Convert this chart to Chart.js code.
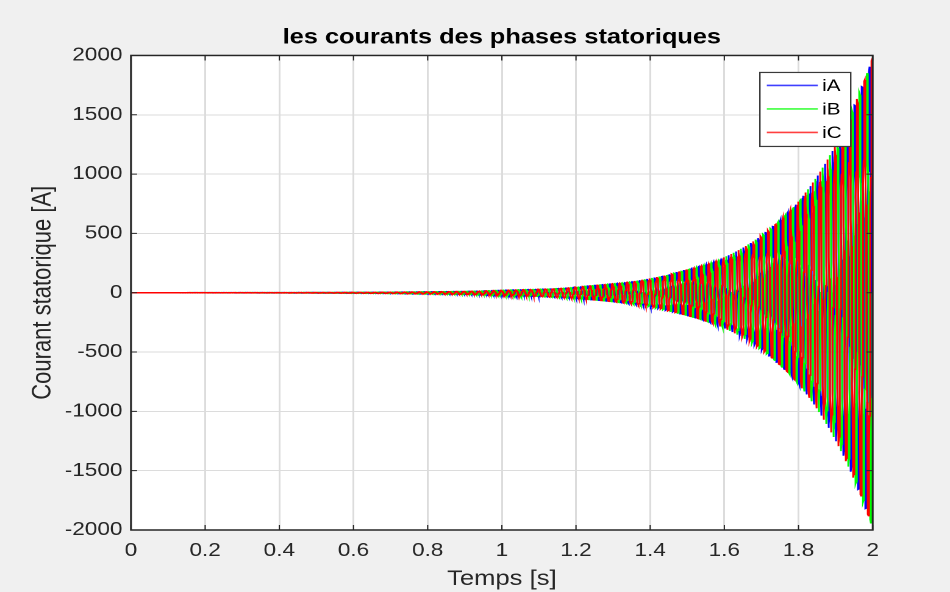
<!DOCTYPE html>
<html>
<head>
<meta charset="utf-8">
<title>Courants statoriques</title>
<script src="https://cdn.jsdelivr.net/npm/chart.js@4.4.1/dist/chart.umd.min.js"></script>
<style>
    html, body { margin: 0; padding: 0; background: #f0f0f0; overflow: hidden; }
    /* the figure is drawn narrow, then widened like the exported figure */
    #frame { width: 779px; height: 592px; transform: scaleX(1.2195); transform-origin: 0 0; }
</style>
</head>
<body>
<div id="frame"><canvas id="courants" width="779" height="592"></canvas></div>
<script>
// Peak amplitude of the phase currents (A) at a few instants (s)
const timeKnots   = [0, 0.2, 0.4, 0.6, 0.8, 1.0, 1.1, 1.2, 1.3, 1.4, 1.5, 1.6, 1.7, 1.8, 1.9, 2.0];
const envelopeAmp = [0.2, 0.5, 1.2, 3, 7.5, 20, 31, 48, 76, 122, 192, 300, 480, 775, 1245, 1985];

// Three phases of the 50 Hz supply
const phaseNames    = ['iA', 'iB', 'iC'];
const phaseColors   = ['#0000ff', '#00ff00', '#ff0000'];
const phaseShiftDeg = [-120, 0, 120];
const supplyFreq    = 50;
const sampleStep    = 0.0005;

const xTicks = [0, 0.2, 0.4, 0.6, 0.8, 1, 1.2, 1.4, 1.6, 1.8, 2];
const yTicks = [-2000, -1500, -1000, -500, 0, 500, 1000, 1500, 2000];

const FONT = 'Liberation Sans, Arial, Helvetica, sans-serif';
const AXIS_COLOR = '#262626';

// amplitude between two knots, log-linear since the growth is exponential
function envelopeAt(t) {
    let i = 0;
    while (i < timeKnots.length - 2 && t > timeKnots[i + 1]) i++;
    const f = (t - timeKnots[i]) / (timeKnots[i + 1] - timeKnots[i]);
    return Math.exp(Math.log(envelopeAmp[i]) * (1 - f) + Math.log(envelopeAmp[i + 1]) * f);
}

function buildPhase(k) {
    const pts = [];
    const n = Math.round(2 / sampleStep);
    const shift = phaseShiftDeg[k] * Math.PI / 180;
    for (let i = 0; i <= n; i++) {
        const t = i * sampleStep;
        pts.push({ x: t, y: envelopeAt(t) * Math.sin(2 * Math.PI * supplyFreq * t + shift) });
    }
    return pts;
}

// white plot area on the grey figure
const plotBackground = {
    id: 'plotBackground',
    beforeDraw(chart) {
        const { ctx, chartArea: a } = chart;
        ctx.save();
        ctx.fillStyle = '#ffffff';
        ctx.fillRect(a.left, a.top, a.right - a.left, a.bottom - a.top);
        ctx.restore();
    }
};

// box around the axes with tick marks pointing inwards
const axesFrame = {
    id: 'axesFrame',
    afterDatasetsDraw(chart) {
        const { ctx, chartArea: a, scales } = chart;
        const len = 5;
        ctx.save();
        ctx.strokeStyle = AXIS_COLOR;
        ctx.lineWidth = 1;
        ctx.beginPath();
        xTicks.forEach(v => {
            const px = scales.x.getPixelForValue(v);
            ctx.moveTo(px, a.bottom); ctx.lineTo(px, a.bottom - len);
            ctx.moveTo(px, a.top); ctx.lineTo(px, a.top + len);
        });
        yTicks.forEach(v => {
            const py = scales.y.getPixelForValue(v);
            ctx.moveTo(a.left, py); ctx.lineTo(a.left + len, py);
            ctx.moveTo(a.right, py); ctx.lineTo(a.right - len, py);
        });
        ctx.stroke();
        ctx.lineWidth = 1.5;
        ctx.strokeRect(a.left, a.top, a.right - a.left, a.bottom - a.top);
        ctx.restore();
    }
};

// legend box in the upper right corner of the axes
const phaseLegend = {
    id: 'phaseLegend',
    afterDraw(chart) {
        const { ctx, chartArea: a } = chart;
        const w = 74.5, h = 74;
        const left = a.right - 18 - w, top = a.top + 17;
        ctx.save();
        ctx.fillStyle = '#ffffff';
        ctx.fillRect(left, top, w, h);
        ctx.strokeStyle = '#3a3a3a';
        ctx.lineWidth = 1.2;
        ctx.strokeRect(left, top, w, h);
        ctx.font = '17px ' + FONT;
        ctx.textBaseline = 'middle';
        chart.data.datasets.forEach((ds, k) => {
            const y = top + 13 + k * 23.5;
            ctx.strokeStyle = ds.borderColor;
            ctx.globalAlpha = 0.75;
            ctx.lineWidth = 1.6;
            ctx.beginPath();
            ctx.moveTo(left + 5.7, y);
            ctx.lineTo(left + 47.5, y);
            ctx.stroke();
            ctx.globalAlpha = 1;
            ctx.fillStyle = '#000000';
            ctx.fillText(ds.label, left + 51, y + 1);
        });
        ctx.restore();
    }
};

const ctx = document.getElementById('courants').getContext('2d');

new Chart(ctx, {
    type: 'line',
    data: {
        datasets: phaseNames.map((name, k) => ({
            label: name,
            data: buildPhase(k),
            borderColor: phaseColors[k],
            borderWidth: 1.5,
            pointRadius: 0,
            tension: 0,
            order: phaseNames.length - k
        }))
    },
    options: {
        responsive: false,
        animation: false,
        devicePixelRatio: 2,
        parsing: false,
        normalized: true,
        layout: { padding: { left: 0, right: 63.4, top: 0, bottom: 0 } },
        plugins: {
            legend: { display: false },
            tooltip: { enabled: false },
            title: {
                display: true,
                text: 'les courants des phases statoriques',
                fullSize: false,
                color: '#000000',
                font: { family: FONT, size: 20.8, weight: 'bold' },
                padding: { top: 25.5, bottom: 5 }
            }
        },
        scales: {
            x: {
                type: 'linear',
                min: 0,
                max: 2,
                afterBuildTicks: s => { s.ticks = xTicks.map(v => ({ value: v })); },
                afterFit: s => { s.height = 62; },
                border: { display: false },
                grid: { color: '#dcdcdc', lineWidth: 1.5, drawTicks: false },
                ticks: {
                    padding: 10,
                    color: AXIS_COLOR,
                    maxRotation: 0,
                    autoSkip: false,
                    font: { family: FONT, size: 18.5 },
                    callback: v => String(v)
                },
                title: {
                    display: true,
                    text: 'Temps [s]',
                    color: AXIS_COLOR,
                    font: { family: FONT, size: 21 },
                    padding: { top: 0, bottom: 0 }
                }
            },
            y: {
                type: 'linear',
                min: -2000,
                max: 2000,
                afterBuildTicks: s => { s.ticks = yTicks.map(v => ({ value: v })); },
                afterFit: s => { s.width = 107.4; },
                border: { display: false },
                grid: { color: '#dcdcdc', lineWidth: 1, drawTicks: false },
                ticks: {
                    padding: 7,
                    color: AXIS_COLOR,
                    autoSkip: false,
                    font: { family: FONT, size: 18.5 },
                    callback: v => String(v)
                },
                title: {
                    display: true,
                    text: 'Courant statorique [A]',
                    color: AXIS_COLOR,
                    font: { family: FONT, size: 22 },
                    padding: { top: 22, bottom: 0 }
                }
            }
        }
    },
    plugins: [plotBackground, axesFrame, phaseLegend]
});
</script>
</body>
</html>
